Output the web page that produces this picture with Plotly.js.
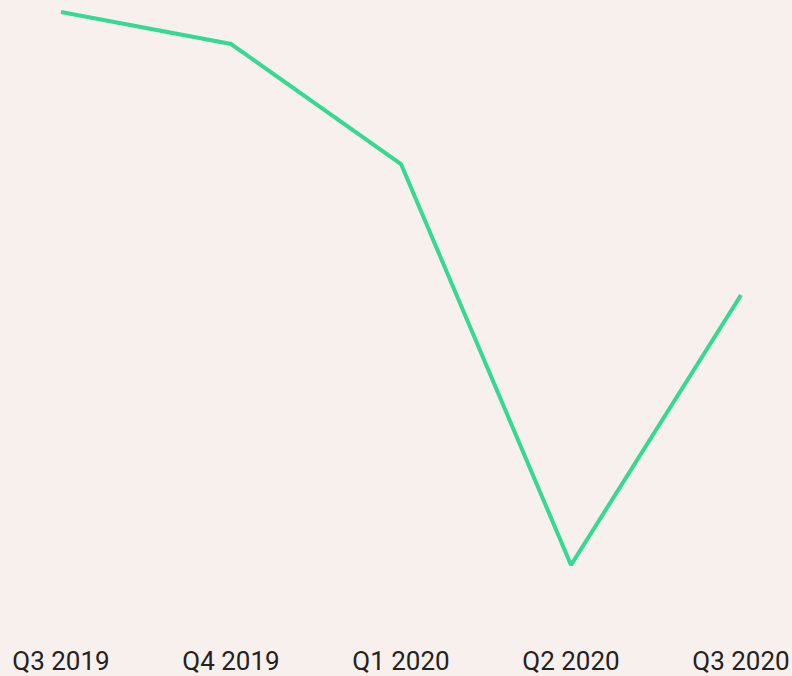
<!DOCTYPE html>
<html>
<head>
<meta charset="utf-8">
<script src="https://cdn.plot.ly/plotly-3.0.1.min.js"></script>
<style>html,body{margin:0;padding:0;background:#f8f0ec;}</style>
</head>
<body>
<div id="chart" style="width:792px;height:676px;"></div>
<script>
const quarters = ["Q3 2019", "Q4 2019", "Q1 2020", "Q2 2020", "Q3 2020"];
const values = [58.8, 55.6, 43.6, 3.5, 30.5];

Plotly.newPlot("chart", [{
  x: [0, 1, 2, 3, 4],
  y: values,
  type: "scatter",
  mode: "lines",
  line: {color: "#36d993", width: 4},
  hoverinfo: "skip"
}], {
  width: 792,
  height: 676,
  margin: {l: 44, r: 34, t: 0, b: 36},
  paper_bgcolor: "#f8f0ec",
  plot_bgcolor: "#f8f0ec",
  showlegend: false,
  font: {family: "Roboto", size: 26, color: "#222222"},
  xaxis: {
    range: [-0.1, 4.1],
    tickmode: "array",
    tickvals: [0, 1, 2, 3, 4],
    ticktext: quarters,
    showgrid: false,
    zeroline: false,
    showline: false,
    ticks: "",
    ticklabelstandoff: 3,
    tickfont: {family: "Roboto", size: 26, color: "#222222"}
  },
  yaxis: {
    range: [-4, 60],
    visible: false,
    showgrid: false,
    zeroline: false
  }
}, {displayModeBar: false, staticPlot: true});
</script>
</body>
</html>
